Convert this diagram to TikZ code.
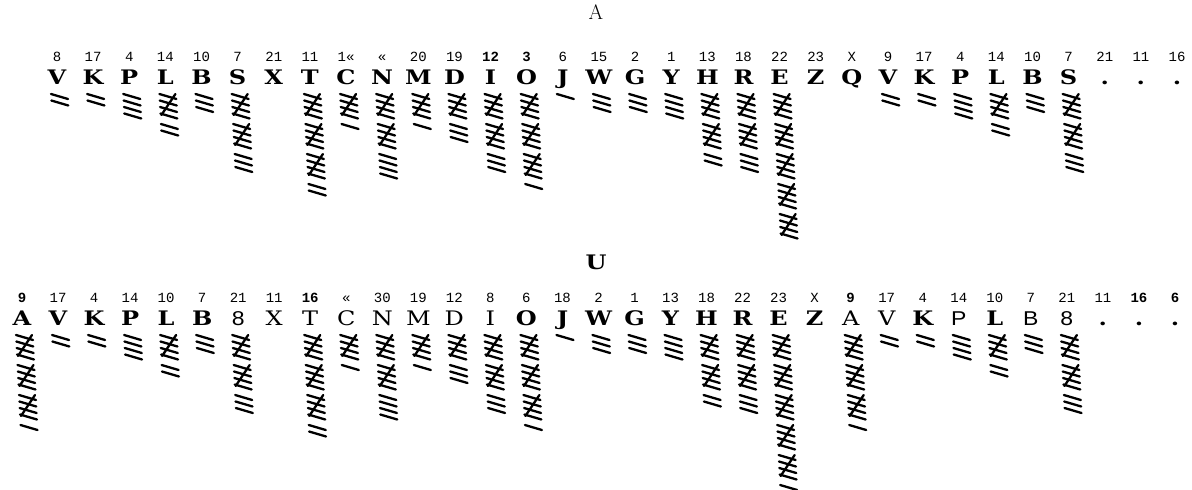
\documentclass[tikz,border=0pt]{standalone}
\usepackage{fontspec}
\newfontfamily\slabfont[FakeStretch=1.2]{DejaVu Serif}
\newfontfamily\numfont{Liberation Mono}
\newfontfamily\thinfont[FakeStretch=1.15]{Liberation Sans}

% tally column: x, top y, count
\newcommand{\tally}[3]{%
  \pgfmathtruncatemacro{\ngroups}{floor(#3/5)}%
  \pgfmathtruncatemacro{\nrest}{#3-5*\ngroups}%
  \ifnum\ngroups>0
    \foreach \g in {1,...,\ngroups}{%
      \foreach \k in {0,...,3}
        \draw[tallystroke] ({#1-9+0.05*((\g-1)*30+\k*6.5)},{#2+(\g-1)*30+\k*6.5}) -- ++(17,5);
      \draw[tallystroke] ({#1+7+0.05*((\g-1)*30)},{#2+(\g-1)*30}) -- ++(-14,21);
    }%
  \fi
  \ifnum\nrest>0
    \foreach \k in {1,...,\nrest}
      \draw[tallystroke] ({#1-9+0.05*(\ngroups*30+(\k-1)*6.5)},{#2+\ngroups*30+(\k-1)*6.5}) -- ++(17,5);
  \fi
}

\begin{document}
\begin{tikzpicture}[%
  x=1pt, y=-1pt,
  letter/.style={font=\slabfont\bfseries\fontsize{20}{20}\selectfont, anchor=base, inner sep=0pt},
  count/.style={font=\numfont\fontsize{14}{14}\selectfont, anchor=base, inner sep=0pt},
  tallystroke/.style={line width=2.3pt, line cap=round}
]

  \useasboundingbox (0,0) rectangle (1192,490);

  \node[anchor=base, inner sep=0pt, font=\fontsize{21}{21}\selectfont] (title) at (596,19) {A};
  \node[letter] (sub) at (596,269) {U};

  % upper row
  \foreach \lab/\num/\cnt [count=\i from 0] in {%
      V/8/2, K/17/2, P/4/4, L/14/7, B/10/3, S/7/13, X/21/0, T/11/17,
      C/1«/6, N/«/14, M/20/6, D/19/8, I/{\bfseries 12}/13, O/{\bfseries 3}/16,
      J/6/1, W/15/3, G/2/3, Y/1/4, H/13/12, R/18/13, E/22/25, Z/23/0,
      Q/X/0, V/9/2, K/17/2, P/4/4, L/14/7, B/10/3, S/7/13, ./21/0, ./11/0, ./16/0}{
    \pgfmathsetmacro{\xc}{57+36.13*\i}
    \node[letter] (tl-\i) at (\xc,84) {\lab};
    \node[count] (tn-\i) at (\xc,61) {\num};
    \tally{\xc+3}{94}{\cnt}
  }

  % lower row
  \foreach \lab/\num/\cnt [count=\i from 0] in {%
      A/{\bfseries 9}/16, V/17/2, K/4/2, P/14/4, L/10/7, B/7/3,
      {\thinfont\mdseries 8}/21/13, {\mdseries X}/11/0, {\mdseries T}/{\bfseries 16}/17,
      {\mdseries C}/«/6, {\mdseries N}/30/14, {\mdseries M}/19/6, {\mdseries D}/12/8,
      {\mdseries I}/8/13, O/6/16, J/18/1, W/2/3, G/1/3, Y/13/4, H/18/12, R/22/13,
      E/23/26, Z/X/0, {\mdseries A}/{\bfseries 9}/16, {\mdseries V}/17/2, K/4/2,
      {\thinfont\mdseries P}/14/4, L/10/7, {\thinfont\mdseries B}/7/3,
      {\thinfont\mdseries 8}/21/13, ./11/0, ./{\bfseries 16}/0, ./{\bfseries 6}/0}{
    \pgfmathsetmacro{\xc}{22+36.03*\i}
    \node[letter] (bl-\i) at (\xc,325) {\lab};
    \node[count] (bn-\i) at (\xc,302) {\num};
    \tally{\xc+3}{335}{\cnt}
  }

\end{tikzpicture}
\end{document}
